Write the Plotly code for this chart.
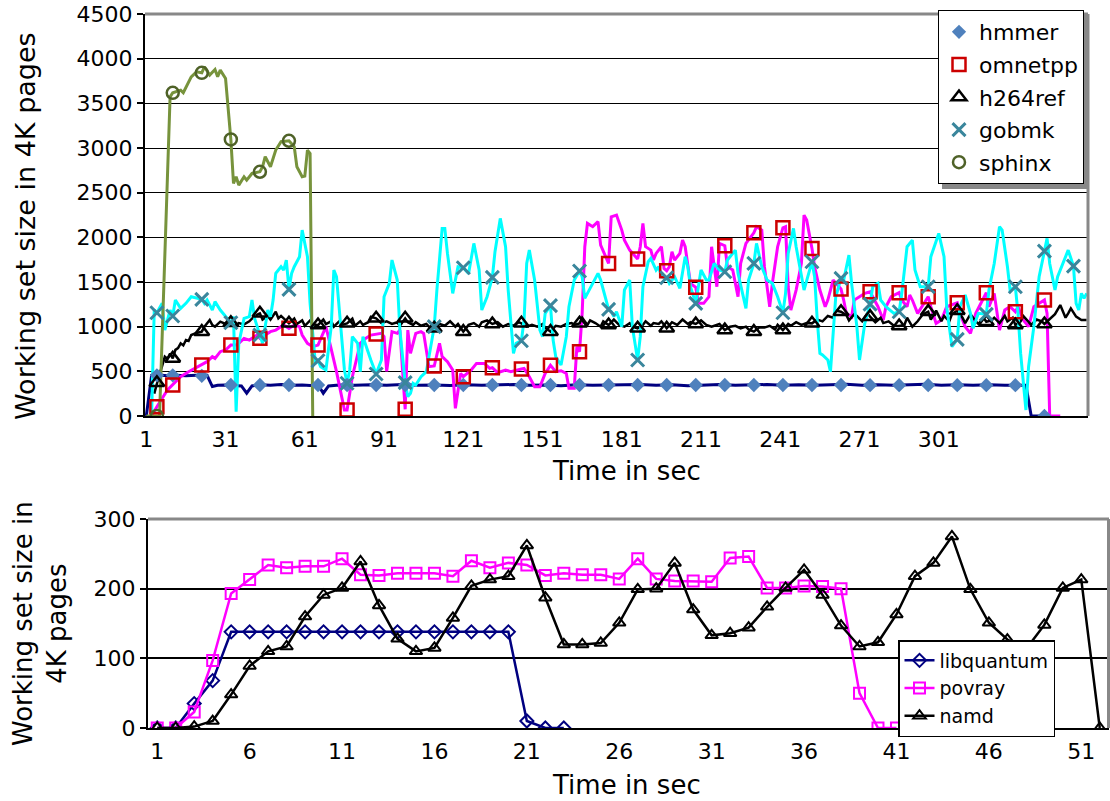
import plotly.graph_objects as go

W, H = 1110, 801
FONT = "DejaVu Sans"

# ---------------- top chart data (time in sec, pages) ----------------
hmmer_line = [(1,0),(3,455),(6,460),(9,450),(12,455),(16,450),(20,455),(24,455),(26,330),(28,345),
    (31,348),(34,342),(37,336),(39,255),(41,336),(44,350),(48,345),(52,352),(56,345),(60,348),(63,342),
    (66,350),(68,255),(70,336),(74,348),(80,345),(86,350),(92,345),(98,352),(104,345),(110,348),(116,342),
    (122,350),(128,345),(134,348),(140,352),(146,345),(152,348),(158,340),(164,350),(170,345),(176,348),
    (182,345),(188,352),(194,345),(200,350),(206,340),(212,348),(218,352),(224,345),(230,348),(236,352),
    (242,345),(248,350),(254,345),(260,348),(266,355),(272,345),(278,350),(284,345),(290,348),(296,355),
    (302,345),(308,350),(314,345),(320,350),(326,345),(330,345),(334,345),(336,0),(341,0)]

omnetpp_line = [(3,0),(5,104),(9,291),(11,347),(14,440),(17,496),(22,571),(24,608),(26,664),(27,645),
    (29,720),(31,739),(33,794),(35,794),(36,813),(38,869),(40,850),(43,906),(44,869),(46,906),(48,944),
    (50,962),(53,1018),(55,981),(57,1018),(59,1000),(60,906),(62,813),(64,776),(66,794),(69,1000),(73,496),
    (76,67),(77,67),(79,440),(82,813),(84,869),(86,906),(88,917),(90,925),(91,888),(92,500),(94,944),
    (96,925),(97,962),(99,75),(100,962),(101,701),(103,925),(105,944),(106,925),(108,552),(110,560),
    (112,813),(113,664),(115,608),(117,515),(118,86),(120,477),(121,440),(124,515),(126,589),(129,589),
    (131,533),(132,541),(134,485),(137,515),(139,496),(143,526),(144,533),(146,440),(148,328),(150,328),
    (152,477),(154,567),(156,496),(158,507),(160,477),(161,310),(163,310),(164,776),(165,720),(166,1149),
    (167,1895),(168,2156),(170,2119),(172,2175),(173,1913),(176,1708),(177,2230),(179,2249),(181,2081),
    (182,1969),(184,1857),(187,1757),(188,1895),(189,2156),(190,1895),(192,1857),(193,1746),(194,1820),
    (196,1895),(197,1652),(198,1626),(199,1671),(200,1839),(201,1746),(203,1820),(204,1969),(205,1895),
    (207,1485),(209,1440),(210,1261),(212,1261),(214,1335),(215,1895),(217,1447),(218,1932),(220,1906),
    (221,1671),(223,1634),(225,1335),(226,1708),(228,1932),(231,2051),(232,2119),(234,2081),(235,1671),
    (237,1223),(238,1485),(240,1895),(242,2107),(243,2119),(244,1447),(245,1186),(247,1410),(249,1708),
    (250,2249),(251,2193),(253,1876),(254,1671),(256,1410),(258,1223),(259,1298),(261,1522),(264,1421),
    (265,1298),(266,1149),(268,1112),(269,1298),(271,1335),(273,1373),(275,1391),(276,1335),(278,1223),
    (280,1074),(281,1223),(283,1335),(286,1380),(287,1298),(289,1223),(290,1354),(291,1298),(293,1149),
    (297,1335),(298,1223),(300,1037),(302,1074),(304,1223),(308,1268),(309,1149),(311,1000),(313,925),
    (315,1149),(319,1380),(320,1223),(322,1373),(324,962),(326,1186),(328,1223),(330,1167),(331,1223),
    (333,1074),(335,1000),(337,1223),(341,1298),(342,1149),(343,0),(347,0)]

h264ref_line = [(4,250),(5,373),(6,470),(7,560),(8,664),(9,640),(10,700),(11,645),(12,740),(13,760),
    (14,813),(15,790),(16,850),(17,840),(18,906),(20,930),(22,944),(23,1000),(25,1074),(26,1018),(27,1000),
    (29,1056),(31,1030),(33,1044),(35,1018),(36,1040),(38,1025),(40,1060),(42,1120),(44,1149),(45,1080),
    (47,1120),(48,1080),(50,1167),(51,1093),(52,1120),(54,1060),(55,1037),(57,1090),(58,1030),(60,1070),
    (61,1010),(63,1070),(64,1025),(66,1018),(68,1080),(69,1030),(71,1060),(72,1000),(74,1060),(75,1020),
    (77,1037),(79,1090),(80,1010),(82,1060),(83,1020),(85,1050),(86,1110),(88,1093),(90,1040),(92,1060),
    (94,1030),(96,1050),(97,1010),(99,1093),(100,1050),(102,1020),(103,1050),(105,1010),(107,1030),
    (108,1000),(110,981),(112,1030),(114,1010),(116,1060),(118,1000),(119,1030),(121,944),(123,1020),
    (125,1040),(127,1000),(128,1050),(130,1070),(132,1030),(134,1050),(136,1000),(138,1030),(140,1010),
    (142,1050),(143,1037),(145,1000),(147,1020),(149,1000),(151,1030),(152,990),(154,944),(156,1010),
    (158,1000),(160,1030),(162,1040),(163,1020),(165,1037),(166,1100),(168,1020),(169,1070),(171,1040),
    (173,1000),(174,1060),(176,1018),(178,1080),(180,1020),(182,1000),(184,1040),(185,1000),(187,981),
    (189,1020),(190,1060),(192,1010),(193,1040),(195,1030),(196,1060),(198,981),(200,1050),(202,1020),
    (204,1080),(206,1030),(207,1050),(209,1030),(211,1070),(213,1020),(215,1000),(216,1010),(218,1030),
    (220,962),(222,1000),(224,1010),(226,980),(228,1000),(229,970),(231,944),(233,990),(235,990),(237,1010),
    (239,970),(240,1020),(242,962),(244,1030),(245,1010),(247,1050),(249,1020),(251,1040),(253,1037),
    (255,1080),(257,1060),(259,1120),(261,1100),(262,1180),(264,1167),(266,1130),(267,1070),(269,1140),
    (270,1120),(272,1060),(274,1150),(275,1112),(277,1050),(279,1100),(280,1040),(282,1060),(284,1010),
    (286,1007),(288,1020),(289,1100),(291,1000),(293,1060),(295,1140),(297,1168),(298,1080),(300,1180),
    (302,1060),(303,1120),(305,1060),(306,1140),(308,1179),(310,1100),(311,1040),(313,1140),(315,1060),
    (316,1030),(318,1100),(319,1055),(321,1070),(322,1100),(324,1040),(326,1120),(327,1060),(329,1100),
    (330,1018),(332,1060),(333,1120),(335,1050),(336,1020),(338,1080),(340,1060),(341,1030),(343,1080),
    (345,1140),(347,1242),(349,1100),(350,1150),(351,1205),(353,1112),(355,1074),(357,1074)]

gobmk_line = [(3,0),(4,1186),(5,1156),(7,1261),(8,962),(10,1186),(11,1119),(12,1298),(14,1205),(16,1261),
    (18,1335),(22,1305),(23,1261),(24,1298),(26,1186),(27,1280),(29,1186),(31,1112),(33,1044),(34,1112),
    (35,48),(36,813),(38,1093),(40,1112),(41,1298),(42,1093),(44,906),(45,813),(47,1186),(48,1112),
    (49,1298),(50,1596),(52,1671),(53,1634),(54,1746),(55,1417),(56,1596),(57,1671),(59,1783),(60,2081),
    (62,1783),(63,1261),(65,589),(66,619),(67,552),(69,515),(71,1000),(72,1634),(73,1559),(74,1186),
    (76,515),(77,366),(78,515),(79,888),(81,813),(82,496),(83,888),(86,627),(88,470),(90,627),(91,1335),
    (93,1485),(94,1746),(96,1522),(97,962),(99,373),(100,216),(101,254),(102,366),(103,347),(105,440),
    (107,496),(110,1000),(111,1410),(113,2100),(114,2100),(115,1820),(117,1373),(119,1671),(121,1660),
    (123,1596),(125,1932),(127,1634),(128,1186),(130,1335),(132,1552),(133,1839),(135,2212),(137,1895),
    (138,1410),(140,701),(141,813),(143,843),(144,1074),(145,1708),(146,1857),(148,1522),(150,962),
    (151,888),(152,1149),(154,1235),(155,850),(156,664),(158,571),(160,888),(161,1223),(163,1522),
    (165,1623),(166,1559),(167,1317),(168,1373),(170,1485),(172,1596),(173,1522),(176,1194),(177,1168),
    (178,1112),(179,1168),(181,1000),(182,1410),(184,1522),(185,1000),(187,627),(188,888),(189,1447),
    (191,1727),(192,1764),(194,1634),(195,1671),(196,1559),(198,1548),(199,1485),(201,1559),(203,1429),
    (205,1783),(206,1671),(207,1447),(209,1261),(210,1447),(211,1634),(213,1522),(214,1522),(216,1708),
    (218,1634),(220,1615),(221,1746),(224,1857),(225,1597),(228,1205),(229,1522),(231,1708),(232,1932),
    (234,1671),(236,1522),(238,1485),(240,1335),(242,1156),(243,1373),(244,1820),(246,2100),(247,1895),
    (249,1559),(250,1410),(253,1727),(254,1559),(255,1074),(256,701),(257,683),(259,627),(260,496),
    (261,888),(262,1335),(264,1540),(265,1522),(267,1802),(268,1485),(270,1000),(271,627),(273,1037),
    (275,1253),(276,1447),(278,1485),(279,1298),(281,1223),(284,1149),(286,1167),(287,1373),(289,1895),
    (291,1969),(292,1634),(294,1447),(297,1447),(298,1783),(301,2044),(303,1783),(304,1223),(306,776),
    (308,858),(309,1223),(311,1354),(313,1149),(314,981),(316,1149),(319,1138),(320,1410),(322,1708),
    (324,2119),(325,2081),(327,1671),(328,1410),(330,1447),(331,1149),(332,701),(334,67),(335,552),
    (337,1000),(339,1559),(341,1846),(342,1988),(343,1708),(345,1410),(346,1559),(350,1857),(352,1678),
    (353,1261),(354,1186),(355,1373),(356,1317),(357,1373)]

sphinx_line = [(1,0),(6,0),(10,3573),(11,3618),(14,3648),(15,3618),(18,3797),(20,3853),(22,3842),
    (23,3909),(25,3816),(27,3879),(28,3797),(29,3872),(31,3778),(33,3096),(34,2604),(35,2678),(36,2585),
    (38,2678),(39,2641),(41,2715),(44,2734),(45,2790),(46,2902),(48,2790),(50,2977),(52,3070),(55,3081),
    (57,3014),(58,2790),(60,2678),(61,2686),(62,2977),(63,2939),(64,0)]

marker_t = [5, 11, 22, 33, 44, 55, 66, 77, 88, 99, 110, 121, 132, 143, 154, 165, 176, 187, 198, 209,
            220, 231, 242, 253, 264, 275, 286, 297, 308, 319, 330, 341]
hmmer_m = [455, 455, 450, 347, 347, 347, 347, 347, 347, 347, 347, 347, 347, 347, 347, 347, 347, 347,
           347, 347, 347, 347, 347, 347, 347, 345, 345, 345, 345, 345, 345, 0]
omnetpp_m = [104, 347, 571, 794, 869, 981, 794, 67, 917, 75, 560, 440, 541, 526, 567, 720, 1708, 1757,
             1626, 1440, 1906, 2051, 2107, 1876, 1421, 1391, 1380, 1335, 1268, 1380, 1167, 1298]
h264ref_m = [373, 645, 944, 1044, 1149, 1037, 1018, 1037, 1093, 1093, 981, 944, 1030, 1037, 944, 1037,
             1018, 981, 981, 1030, 962, 944, 962, 1037, 1167, 1112, 1007, 1168, 1179, 1055, 1018, 1030]
gobmk_m_t = marker_t + [352]
gobmk_m = [1156, 1119, 1305, 1044, 906, 1417, 619, 366, 470, 373, 1000, 1660, 1552, 843, 1235, 1623,
           1194, 627, 1548, 1261, 1615, 1708, 1156, 1727, 1540, 1253, 1167, 1447, 858, 1138, 1447, 1846, 1678]
sphinx_m_t = [5, 11, 22, 33, 44, 55]
sphinx_m = [0, 3618, 3842, 3096, 2734, 3081]

top_ticks = [1, 31, 61, 91, 121, 151, 181, 211, 241, 271, 301]

# ---------------- bottom chart data ----------------
libquantum = [0, 0, 35, 68] + [138] * 16 + [10, 0, 0]
povray = [0, 0, 23, 97, 193, 213, 234, 230, 232, 232, 243, 220, 219, 222, 222, 222, 218, 240, 230, 237,
          234, 219, 222, 220, 220, 214, 243, 214, 211, 211, 210, 244, 246, 201, 201, 204, 203, 200, 50, 0, 0]
namd = [0, 0, 2, 10, 48, 89, 110, 117, 160, 191, 201, 239, 176, 128, 110, 115, 158, 204, 213, 218,
        262, 187, 120, 120, 122, 151, 199, 200, 237, 170, 133, 136, 144, 174, 201, 227, 191, 147, 117, 123,
        163, 218, 237, 275, 199, 151, 127, 113, 148, 201, 213, 0]
bottom_ticks = [1, 6, 11, 16, 21, 26, 31, 36, 41, 46, 51]

# ---------------- figure ----------------
def unzip(pairs):
    return [p[0] for p in pairs], [p[1] for p in pairs]

fig = go.Figure()

lines = [
    (hmmer_line, "#000080", 3),
    (omnetpp_line, "#FF00FF", 3),
    (h264ref_line, "#000000", 2.5),
    (gobmk_line, "#00FFFF", 3),
    (sphinx_line, "#77933C", 3),
]
for pairs, col, w in lines:
    xs, ys = unzip(pairs)
    fig.add_trace(go.Scatter(x=xs, y=ys, mode="lines", line=dict(color=col, width=w),
                             showlegend=False, hoverinfo="skip", xaxis="x", yaxis="y"))

markers = [
    ("hmmer", marker_t, hmmer_m, dict(symbol="diamond", size=11, color="#4F81BD",
                                       line=dict(width=0))),
    ("omnetpp", marker_t, omnetpp_m, dict(symbol="square-open", size=13, color="#CC0000",
                                           line=dict(width=2.5, color="#CC0000"))),
    ("h264ref", marker_t, h264ref_m, dict(symbol="triangle-up-open", size=13, color="#000000",
                                           line=dict(width=2.5, color="#000000"))),
    ("gobmk", gobmk_m_t, gobmk_m, dict(symbol="x-thin-open", size=13, color="#3A869C",
                                        line=dict(width=3, color="#3A869C"))),
    ("sphinx", sphinx_m_t, sphinx_m, dict(symbol="circle-open", size=12, color="#4F6228",
                                           line=dict(width=2.5, color="#4F6228"))),
]
for name, xs, ys, mk in markers:
    fig.add_trace(go.Scatter(x=xs, y=ys, mode="markers", name=name, marker=mk,
                             legendgroup=name, legend="legend", xaxis="x", yaxis="y"))

bx = list(range(1, 53))
bottom = [
    ("libquantum", libquantum, "#000080", dict(symbol="diamond-open", size=10, color="#000080",
                                                line=dict(width=2, color="#000080"))),
    ("povray", povray, "#FF00FF", dict(symbol="square-open", size=11, color="#FF00FF",
                                        line=dict(width=2, color="#FF00FF"))),
    ("namd", namd, "#000000", dict(symbol="triangle-up-open", size=11, color="#000000",
                                    line=dict(width=2, color="#000000"))),
]
for name, vals, col, mk in bottom:
    fig.add_trace(go.Scatter(x=bx[:len(vals)], y=vals, mode="lines+markers", name=name,
                             line=dict(color=col, width=2.5), marker=mk, legend="legend2",
                             xaxis="x2", yaxis="y2"))

def px(x):
    return x / W

def py(y):
    return 1 - y / H

tickfont = dict(family=FONT, size=22, color="black")
fig.update_layout(
    template="none",
    width=W, height=H, autosize=False,
    margin=dict(l=0, r=0, t=0, b=0, pad=0, autoexpand=False),
    paper_bgcolor="white", plot_bgcolor="white",
    font=dict(family=FONT, size=22, color="black"),
    xaxis=dict(domain=[px(145), px(1088)], range=[0.5, 357.5], tickmode="array", tickvals=top_ticks,
               showgrid=False, zeroline=False, showline=True, linecolor="black", linewidth=2,
               ticks="", tickfont=tickfont, anchor="y", ticklabelstandoff=3, automargin=False),
    yaxis=dict(domain=[py(416), py(14)], range=[0, 4500], dtick=500, showgrid=True, gridcolor="black",
               gridwidth=1, zeroline=False, showline=True, linecolor="black", linewidth=2,
               ticks="outside", ticklen=6, tickcolor="black", tickwidth=2, tickfont=tickfont, anchor="x",
               automargin=False),
    xaxis2=dict(domain=[px(148), px(1109)], range=[0.5, 52.5], tickmode="array", tickvals=bottom_ticks,
                showgrid=False, zeroline=False, showline=True, linecolor="black", linewidth=2,
                ticks="", tickfont=tickfont, anchor="y2", ticklabelstandoff=3, automargin=False),
    yaxis2=dict(domain=[py(728), py(519)], range=[0, 300], dtick=100, showgrid=True, gridcolor="black",
                gridwidth=1.5, zeroline=False, showline=True, linecolor="black", linewidth=2,
                ticks="outside", ticklen=6, tickcolor="black", tickwidth=2, tickfont=tickfont, anchor="x2",
                automargin=False),
    legend=dict(x=px(938), y=py(10), xanchor="left", yanchor="top", bgcolor="white",
                bordercolor="black", borderwidth=1, font=dict(family=FONT, size=22, color="black"),
                traceorder="grouped", tracegroupgap=1),
    legend2=dict(x=px(898), y=py(640), xanchor="left", yanchor="top", bgcolor="white",
                 bordercolor="black", borderwidth=1.5, font=dict(family=FONT, size=19, color="black")),
    showlegend=True,
)

# plot-area borders (gray top/right) and legend shadow
shapes = [
    dict(type="line", xref="paper", yref="paper", x0=px(145), x1=px(1088), y0=py(14), y1=py(14),
         line=dict(color="#888888", width=3)),
    dict(type="line", xref="paper", yref="paper", x0=px(1088), x1=px(1088), y0=py(14), y1=py(416),
         line=dict(color="#888888", width=3)),
    dict(type="line", xref="paper", yref="paper", x0=px(148), x1=px(1109), y0=py(519), y1=py(519),
         line=dict(color="#888888", width=3)),
    dict(type="line", xref="paper", yref="paper", x0=px(1108.5), x1=px(1108.5), y0=py(519), y1=py(728),
         line=dict(color="#888888", width=3)),
    dict(type="rect", xref="paper", yref="paper", x0=px(942), x1=px(1087), y0=py(189), y1=py(14),
         line=dict(width=0), fillcolor="#888888", layer="above"),
]
fig.update_layout(shapes=shapes)

titlefont = dict(family=FONT, size=26, color="black")
fig.add_annotation(text="Working set size in 4K pages", xref="paper", yref="paper", x=px(25), y=py(226),
                   textangle=-90, showarrow=False, font=dict(family=FONT, size=27, color="black"),
                   xanchor="center", yanchor="middle")
fig.add_annotation(text="Time in sec", xref="paper", yref="paper", x=px(626), y=py(471),
                   showarrow=False, font=titlefont, xanchor="center", yanchor="middle")
fig.add_annotation(text="Working set size in<br>4K pages", xref="paper", yref="paper", x=px(40), y=py(624),
                   textangle=-90, showarrow=False, font=titlefont, xanchor="center", yanchor="middle")
fig.add_annotation(text="Time in sec", xref="paper", yref="paper", x=px(626), y=py(785),
                   showarrow=False, font=titlefont, xanchor="center", yanchor="middle")

fig.write_html("out.html")
